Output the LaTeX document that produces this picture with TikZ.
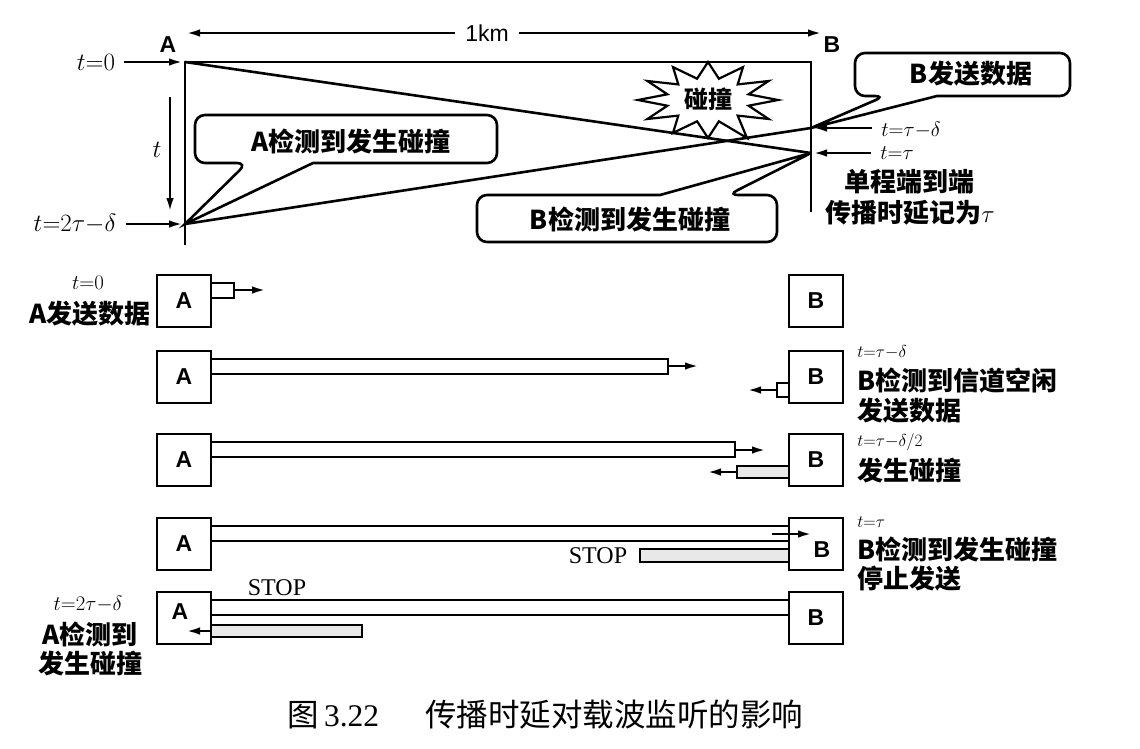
\documentclass[tikz,border=0pt]{standalone}
\usepackage{fontspec}
\setmainfont{Liberation Sans}
\newfontfamily\cjk{Noto Sans CJK SC}
\newfontfamily\tms{Liberation Serif}
\usetikzlibrary{arrows.meta}
\begin{document}
\begin{tikzpicture}[x=1pt,y=-1pt,line width=2.6pt,
  >={Latex[length=14pt,width=7.5pt]},
  zh/.style={font=\cjk\bfseries\fontsize{26}{28}\selectfont, inner sep=0pt},
  captxt/.style={font=\cjk\fontsize{31.5}{33}\selectfont, inner sep=0pt},
  tlab/.style={font=\fontsize{24}{26}\selectfont, inner sep=0pt},
  tlabm/.style={font=\fontsize{21}{23}\selectfont, inner sep=0pt},
  tlabs/.style={font=\fontsize{17}{19}\selectfont, inner sep=0pt},
  hdr/.style={font=\bfseries\fontsize{23}{25}\selectfont, inner sep=0pt},
  stn/.style={draw, line width=2.8pt, minimum width=54pt, minimum height=52pt, inner sep=0pt, fill=white},
  stnt/.style={font=\bfseries\fontsize{23}{25}\selectfont, inner sep=0pt},
  stp/.style={font=\tms\fontsize{24}{26}\selectfont, inner sep=0pt},
  sig/.style={draw, fill=white, line width=2.3pt},
  colbar/.style={draw, fill=gray!18, line width=2.3pt},
  bub/.style={draw, line width=2.6pt, fill=white},
  gapped/.style={shorten <=8pt, shorten >=2pt},
]
\useasboundingbox (0,0) rectangle (1140,748);
% ---------- top time diagram ----------
\node[hdr] (lA) at (168,45) {A};
\node[hdr] (lB) at (832,45) {B};
\node[font=\fontsize{23}{25}\selectfont, inner sep=0pt] (km) at (487,33) {1km};
\coordinate (kmL) at (186,33);
\coordinate (kmR) at (822,33);
\draw[->, shorten <=9pt] (km) -- (kmL);
\draw[->, shorten <=9pt] (km) -- (kmR);
\coordinate (A0) at (185,62);
\coordinate (B0) at (811,62);
\coordinate (Aend) at (185,245);
\coordinate (Bend) at (811,212);
\coordinate (At2) at (185,224);
\coordinate (Btd) at (811,128);
\coordinate (Bt) at (811,153);
\draw (Aend) -- (A0) -- (B0) -- (Bend);
\draw (A0) -- (Bt);
\draw (Btd) -- (At2);
\node[tlab] (t0) at (96,62) {$t{=}0$};
\draw[->, gapped] (t0) -- (A0);
\node[tlab] (t2) at (75,224) {$t{=}2\tau{-}\delta$};
\draw[->, gapped] (t2) -- (At2);
\coordinate (ta) at (170,97);
\coordinate (tb) at (170,212);
\draw[->] (ta) -- (tb);
\node[tlab] (tt) at (157,150) {$t$};
\node[tlabm] (ttd) at (911,130) {$t{=}\tau{-}\delta$};
\draw[->, gapped] (ttd.west |- Btd) -- (Btd);
\node[tlabm] (ttt) at (897,153) {$t{=}\tau$};
\draw[->, gapped] (ttt.west |- Bt) -- (Bt);
\node[zh] (one) at (909,182) {单程端到端};
\node[zh] (prop) at (910,213) {传播时延记为$\tau$};
% collision star
\draw[line width=2.2pt, fill=white, shift={(708,100)}]
  (70,0) -- (40.6,5.7) -- (60.6,19) -- (29.7,15.6) -- (39,38) -- (10.9,21.3)
  -- (0,38) -- (-10.9,21.3) -- (-35,32.9) -- (-29.7,15.6) -- (-60.6,19)
  -- (-40.6,5.7) -- (-70,0) -- (-40.6,-5.7) -- (-60.6,-19) -- (-29.7,-15.6)
  -- (-35,-32.9) -- (-10.9,-21.3) -- (0,-38) -- (10.9,-21.3) -- (35,-32.9)
  -- (29.7,-15.6) -- (60.6,-19) -- (40.6,-5.7) -- cycle;
\node[zh, font=\cjk\bfseries\fontsize{24}{26}\selectfont] (pz) at (708,99) {碰撞};
% bubbles
\draw[bub, rounded corners=10pt] (313,163) -- (497,163) -- (497,115) -- (195,115) -- (195,163) -- (247,163) [sharp corners] -- (At2) -- cycle;
\node[zh] (bA) at (351,141) {A检测到发生碰撞};
\draw[bub, rounded corners=10pt] (937,96) -- (1070,96) -- (1070,53) -- (855,53) -- (855,96) -- (885,96) [sharp corners] -- (Btd) -- cycle;
\node[zh] (bB) at (971,74) {B发送数据};
\draw[bub, rounded corners=10pt] (660,195) -- (477,195) -- (477,242) -- (777,242) -- (777,195) -- (728,195) [sharp corners] -- (Bt) -- cycle;
\node[zh] (bC) at (630,219) {B检测到发生碰撞};
% ---------- row 1 ----------
\node[stn] (A1) at (184,301) {};
\node[stnt] (A1t) at (184,301) {A};
\node[stn] (B1) at (816,301) {};
\node[stnt] (B1t) at (816,301) {B};
\draw[sig] (211,283) rectangle (234,298);
\coordinate (a1s) at (234,290);
\coordinate (a1e) at (266,290);
\draw[->] (a1s) -- (a1e);
\node[tlabm] (l1a) at (88,283) {$t{=}0$};
\node[zh, anchor=east] (l1b) at (152,314) {A发送数据};
% ---------- row 2 ----------
\node[stn] (A2) at (184,377) {};
\node[stnt] (A2t) at (184,377) {A};
\node[stn] (B2) at (816,377) {};
\node[stnt] (B2t) at (816,377) {B};
\draw[sig] (211,359) rectangle (668,374);
\coordinate (a2s) at (668,366);
\coordinate (a2e) at (699,366);
\draw[->] (a2s) -- (a2e);
\draw[sig] (777,383) rectangle (789,397);
\coordinate (b2s) at (777,390);
\coordinate (b2e) at (747,390);
\draw[->] (b2s) -- (b2e);
\node[tlabs, anchor=west] (l2a) at (856,352) {$t{=}\tau{-}\delta$};
\node[zh, anchor=west] (l2b) at (856,381) {B检测到信道空闲};
\node[zh, anchor=west] (l2c) at (856,411) {发送数据};
% ---------- row 3 ----------
\node[stn] (A3) at (184,460) {};
\node[stnt] (A3t) at (184,460) {A};
\node[stn] (B3) at (816,460) {};
\node[stnt] (B3t) at (816,460) {B};
\draw[sig] (211,442) rectangle (735,457);
\coordinate (a3s) at (735,450);
\coordinate (a3e) at (766,450);
\draw[->] (a3s) -- (a3e);
\draw[colbar] (737,466) rectangle (789,478);
\coordinate (b3s) at (737,472);
\coordinate (b3e) at (707,472);
\draw[->] (b3s) -- (b3e);
\node[tlabs, anchor=west] (l3a) at (856,442) {$t{=}\tau{-}\delta/2$};
\node[zh, anchor=west] (l3b) at (856,471) {发生碰撞};
% ---------- row 4 ----------
\node[stn] (A4) at (184,544) {};
\node[stnt] (A4t) at (184,544) {A};
\node[stn] (B4) at (816,544) {};
\node[stnt] (B4t) at (822,550) {B};
\draw[sig] (211,526) rectangle (789,541);
\coordinate (a4s) at (772,534);
\coordinate (a4e) at (812,534);
\draw[->] (a4s) -- (a4e);
\draw[colbar] (640,549) rectangle (789,562);
\node[stp] (s4) at (598,556) {STOP};
\node[tlabs, anchor=west] (l4a) at (856,522) {$t{=}\tau$};
\node[zh, anchor=west] (l4b) at (856,549) {B检测到发生碰撞};
\node[zh, anchor=west] (l4c) at (856,579) {停止发送};
% ---------- row 5 ----------
\node[stn] (A5) at (184,618) {};
\node[stnt] (A5t) at (180,612) {A};
\node[stn] (B5) at (816,618) {};
\node[stnt] (B5t) at (816,618) {B};
\draw[sig] (211,600) rectangle (789,615);
\draw[colbar] (211,625) rectangle (362,637);
\coordinate (a5s) at (211,631);
\coordinate (a5e) at (186,631);
\draw[->] (a5s) -- (a5e);
\node[stp] (s5) at (277,588) {STOP};
\node[font=\fontsize{22}{24}\selectfont, inner sep=0pt] (l5a) at (88,604) {$t{=}2\tau{-}\delta$};
\node[zh] (l5b) at (90,634) {A检测到};
\node[zh] (l5c) at (90,664) {发生碰撞};
% ---------- caption ----------
\node[captxt, anchor=west] (c1) at (286,715) {图\,{\tms 3.22}};
\node[captxt, anchor=west] (c2) at (424,715) {传播时延对载波监听的影响};
\end{tikzpicture}
\end{document}
